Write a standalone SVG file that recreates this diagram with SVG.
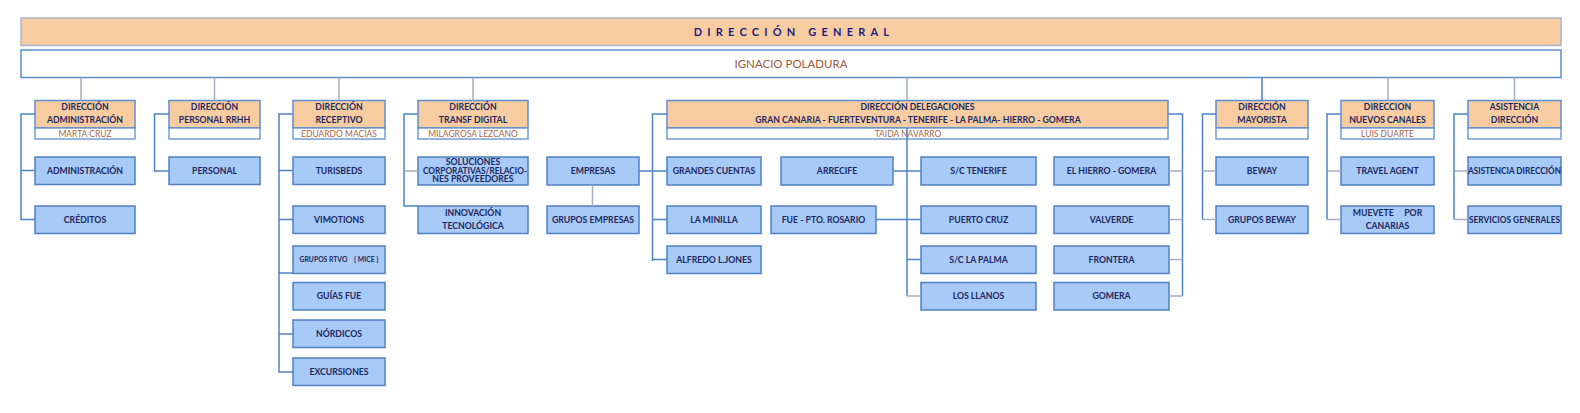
<svg xmlns="http://www.w3.org/2000/svg" width="1580" height="413" viewBox="0 0 1580 413">
<style>
.bg{fill:#ffffff}
.dg{fill:#F7CCA1;stroke:#A9B5C9;stroke-width:1.5}
.ig{fill:#ffffff;stroke:#5C8ED2;stroke-width:1.5}
.hdr{fill:#F7CCA1;stroke:#5C8ED2;stroke-width:1.5}
.sub{fill:#ffffff;stroke:#5C8ED2;stroke-width:1.3}
.box{fill:#A8CAF7;stroke:#4F80C2;stroke-width:1.5}
text{font-family:Lato,"Open Sans","Liberation Sans",sans-serif;text-anchor:middle}
.t{font-size:8.7px;font-weight:bold;fill:#1D2760}
.s{font-size:6.8px;font-weight:bold;fill:#1D2760;white-space:pre}
.n{font-size:8.5px;fill:#A5663F}
.title{font-size:11px;font-weight:bold;fill:#1C1C80;letter-spacing:5.2px}
.ign{font-size:11.5px;fill:#9E5A3C}
.c{stroke:#4E82C6;stroke-width:1.5;fill:none}
.g{stroke:#A3AEC0;stroke-width:1.5;fill:none}
</style>
<rect class="bg" x="0" y="0" width="1580" height="413"/>

<g id="direccion-general">
<rect class="dg" x="21" y="18" width="1540" height="27.5"/>
<text class="title" x="794" y="35.5">DIRECCIÓN GENERAL</text>
</g>
<g id="ignacio">
<rect class="ig" x="21" y="50" width="1540" height="27.5"/>
<text class="ign" x="791" y="67.5">IGNACIO POLADURA</text>
</g>

<g id="dir-administracion">
<rect class="hdr" x="35" y="100.5" width="100" height="27.5"/>
<rect class="sub" x="35" y="128" width="100" height="11"/>
<text class="t" x="85" y="110">DIRECCIÓN</text>
<text class="t" x="85" y="123">ADMINISTRACIÓN</text>
<text class="n" x="85" y="137.3">MARTA CRUZ</text>
</g>
<g id="administracion"><rect class="box" x="35" y="157" width="100" height="27.5"/><text class="t" x="85" y="173.7">ADMINISTRACIÓN</text></g>
<g id="creditos"><rect class="box" x="35" y="206" width="100" height="27.5"/><text class="t" x="85" y="222.7">CRÉDITOS</text></g>

<g id="dir-personal">
<rect class="hdr" x="169" y="100.5" width="91" height="27.5"/>
<rect class="sub" x="169" y="128" width="91" height="11"/>
<text class="t" x="214.5" y="110">DIRECCIÓN</text>
<text class="t" x="214.5" y="123">PERSONAL RRHH</text>
</g>
<g id="personal"><rect class="box" x="169" y="157" width="91" height="27.5"/><text class="t" x="214.5" y="173.7">PERSONAL</text></g>

<g id="dir-receptivo">
<rect class="hdr" x="293" y="100.5" width="92" height="27.5"/>
<rect class="sub" x="293" y="128" width="92" height="11"/>
<text class="t" x="339" y="110">DIRECCIÓN</text>
<text class="t" x="339" y="123">RECEPTIVO</text>
<text class="n" x="339" y="137.3">EDUARDO MACÍAS</text>
</g>
<g id="turisbeds"><rect class="box" x="293" y="157" width="92" height="27.5"/><text class="t" x="339" y="173.7">TURISBEDS</text></g>
<g id="vimotions"><rect class="box" x="293" y="206" width="92" height="27.5"/><text class="t" x="339" y="222.7">VIMOTIONS</text></g>
<g id="grupos-rtvo"><rect class="box" x="293" y="246" width="92" height="27.5"/><text class="s" x="339" y="261.9">GRUPOS RTVO    [ MICE ]</text></g>
<g id="guias-fue"><rect class="box" x="293" y="282.5" width="92" height="27.5"/><text class="t" x="339" y="299.2">GUÍAS FUE</text></g>
<g id="nordicos"><rect class="box" x="293" y="320" width="92" height="27.5"/><text class="t" x="339" y="336.7">NÓRDICOS</text></g>
<g id="excursiones"><rect class="box" x="293" y="358" width="92" height="27.5"/><text class="t" x="339" y="374.7">EXCURSIONES</text></g>

<g id="dir-transf-digital">
<rect class="hdr" x="418" y="100.5" width="110" height="27.5"/>
<rect class="sub" x="418" y="128" width="110" height="11"/>
<text class="t" x="473" y="110">DIRECCIÓN</text>
<text class="t" x="473" y="123">TRANSF DIGITAL</text>
<text class="n" x="473" y="137.3">MILAGROSA LEZCANO</text>
</g>
<g id="soluciones"><rect class="box" x="418" y="157" width="110" height="28"/>
<text class="t" x="473" y="165.3">SOLUCIONES</text>
<text class="t" x="475" y="173.6" textLength="104" lengthAdjust="spacingAndGlyphs">CORPORATIVAS/RELACIO-</text>
<text class="t" x="473" y="182">NES PROVEEDORES</text></g>
<g id="innovacion"><rect class="box" x="418" y="206" width="110" height="27.5"/>
<text class="t" x="473" y="216.3">INNOVACIÓN</text>
<text class="t" x="473" y="228.7">TECNOLÓGICA</text></g>

<g id="empresas"><rect class="box" x="547" y="157" width="92" height="28"/><text class="t" x="593" y="173.9">EMPRESAS</text></g>
<g id="grupos-empresas"><rect class="box" x="547" y="206" width="92" height="27.5"/><text class="t" x="593" y="222.7">GRUPOS EMPRESAS</text></g>

<g id="dir-delegaciones">
<rect class="hdr" x="667" y="100.5" width="501" height="27.5"/>
<rect class="sub" x="667" y="128" width="501" height="11"/>
<text class="t" x="917.5" y="110">DIRECCIÓN DELEGACIONES</text>
<text class="t" x="918" y="123">GRAN CANARIA - FUERTEVENTURA - TENERIFE - LA PALMA- HIERRO - GOMERA</text>
<text class="n" x="908" y="137.3">TAIDA NAVARRO</text>
</g>
<g id="grandes-cuentas"><rect class="box" x="667" y="157" width="94" height="28"/><text class="t" x="714" y="173.9">GRANDES CUENTAS</text></g>
<g id="la-minilla"><rect class="box" x="667" y="206" width="94" height="27.5"/><text class="t" x="714" y="222.7">LA MINILLA</text></g>
<g id="alfredo"><rect class="box" x="667" y="246" width="94" height="27.5"/><text class="t" x="714" y="262.7">ALFREDO L.JONES</text></g>
<g id="arrecife"><rect class="box" x="781" y="157" width="112" height="28"/><text class="t" x="837" y="173.9">ARRECIFE</text></g>
<g id="fue-pto-rosario"><rect class="box" x="771" y="206" width="105" height="27.5"/><text class="t" x="823.5" y="222.7">FUE - PTO. ROSARIO</text></g>
<g id="sc-tenerife"><rect class="box" x="921" y="157" width="115" height="28"/><text class="t" x="978.5" y="173.9">S/C TENERIFE</text></g>
<g id="puerto-cruz"><rect class="box" x="921" y="206" width="115" height="27.5"/><text class="t" x="978.5" y="222.7">PUERTO CRUZ</text></g>
<g id="sc-la-palma"><rect class="box" x="921" y="246" width="115" height="27.5"/><text class="t" x="978.5" y="262.7">S/C LA PALMA</text></g>
<g id="los-llanos"><rect class="box" x="921" y="282.5" width="115" height="27.5"/><text class="t" x="978.5" y="299.2">LOS LLANOS</text></g>
<g id="el-hierro-gomera"><rect class="box" x="1054" y="157" width="115" height="28"/><text class="t" x="1111.5" y="173.9">EL HIERRO - GOMERA</text></g>
<g id="valverde"><rect class="box" x="1054" y="206" width="115" height="27.5"/><text class="t" x="1111.5" y="222.7">VALVERDE</text></g>
<g id="frontera"><rect class="box" x="1054" y="246" width="115" height="27.5"/><text class="t" x="1111.5" y="262.7">FRONTERA</text></g>
<g id="gomera"><rect class="box" x="1054" y="282.5" width="115" height="27.5"/><text class="t" x="1111.5" y="299.2">GOMERA</text></g>

<g id="dir-mayorista">
<rect class="hdr" x="1216" y="100.5" width="92" height="27.5"/>
<rect class="sub" x="1216" y="128" width="92" height="11"/>
<text class="t" x="1262" y="110">DIRECCIÓN</text>
<text class="t" x="1262" y="123">MAYORISTA</text>
</g>
<g id="beway"><rect class="box" x="1216" y="157" width="92" height="28"/><text class="t" x="1262" y="173.9">BEWAY</text></g>
<g id="grupos-beway"><rect class="box" x="1216" y="206" width="92" height="27.5"/><text class="t" x="1262" y="222.7">GRUPOS BEWAY</text></g>

<g id="dir-nuevos-canales">
<rect class="hdr" x="1341" y="100.5" width="93" height="27.5"/>
<rect class="sub" x="1341" y="128" width="93" height="11"/>
<text class="t" x="1387.5" y="110">DIRECCION</text>
<text class="t" x="1387.5" y="123">NUEVOS CANALES</text>
<text class="n" x="1387.5" y="137.3">LUIS DUARTE</text>
</g>
<g id="travel-agent"><rect class="box" x="1341" y="157" width="93" height="28"/><text class="t" x="1387.5" y="173.9">TRAVEL AGENT</text></g>
<g id="muevete"><rect class="box" x="1341" y="206" width="93" height="27.5"/>
<text class="t" x="1387.5" y="216.3" style="white-space:pre">MUEVETE     POR</text>
<text class="t" x="1387.5" y="228.7">CANARIAS</text></g>

<g id="asistencia">
<rect class="hdr" x="1468" y="100.5" width="93" height="27.5"/>
<rect class="sub" x="1468" y="128" width="93" height="11"/>
<text class="t" x="1514.5" y="110">ASISTENCIA</text>
<text class="t" x="1514.5" y="123">DIRECCIÓN</text>
</g>
<g id="asistencia-direccion"><rect class="box" x="1468" y="157" width="93" height="28"/><text class="t" x="1514.5" y="173.9" textLength="93" lengthAdjust="spacingAndGlyphs">ASISTENCIA DIRECCIÓN</text></g>
<g id="servicios-generales"><rect class="box" x="1468" y="206" width="93" height="27.5"/><text class="t" x="1514.5" y="222.7" textLength="91" lengthAdjust="spacingAndGlyphs">SERVICIOS GENERALES</text></g>

<g id="connectors">
<path class="g" d="M81 77.5V100.5M214.5 77.5V100.5M339 77.5V100.5M473 77.5V100.5M907 77.5V100.5M1388 77.5V100.5M1514.5 77.5V100.5"/>
<path class="c" d="M1262 77.5V100.5"/>
<path class="c" d="M35 114H21V219.5H35M21 170.5H35"/>
<path class="c" d="M169 114H154.5V171H169"/>
<path class="c" d="M293 114H279V372H293M279 170.5H293M279 219.5H293M279 273H293M279 334H293"/>
<path class="c" d="M418 114H404V206H418"/>
<path class="g" d="M404 171H418"/>
<path class="g" d="M592.5 185V206"/>
<path class="c" d="M667 114H652.5V261M639 171H667M652.5 219.5H667M652.5 259.5H667"/>
<path class="c" d="M907 128V296M893 171H921M876 219.5H921M907 259.5H921"/>
<path class="g" d="M907 296H921"/>
<path class="c" d="M1168 114H1182.5V296"/>
<path class="g" d="M1169 171H1182.5M1169 219.5H1182.5M1169 259.5H1182.5M1169 296H1182.5"/>
<path class="c" d="M1216 114H1202.5V219.5"/>
<path class="g" d="M1202.5 171H1216M1202.5 219.5H1216"/>
<path class="c" d="M1341 114H1327V219.5"/>
<path class="g" d="M1327 171H1341M1327 219.5H1341"/>
<path class="c" d="M1468 114H1454V219.5"/>
<path class="g" d="M1454 171H1468M1454 219.5H1468"/>
</g>
</svg>
